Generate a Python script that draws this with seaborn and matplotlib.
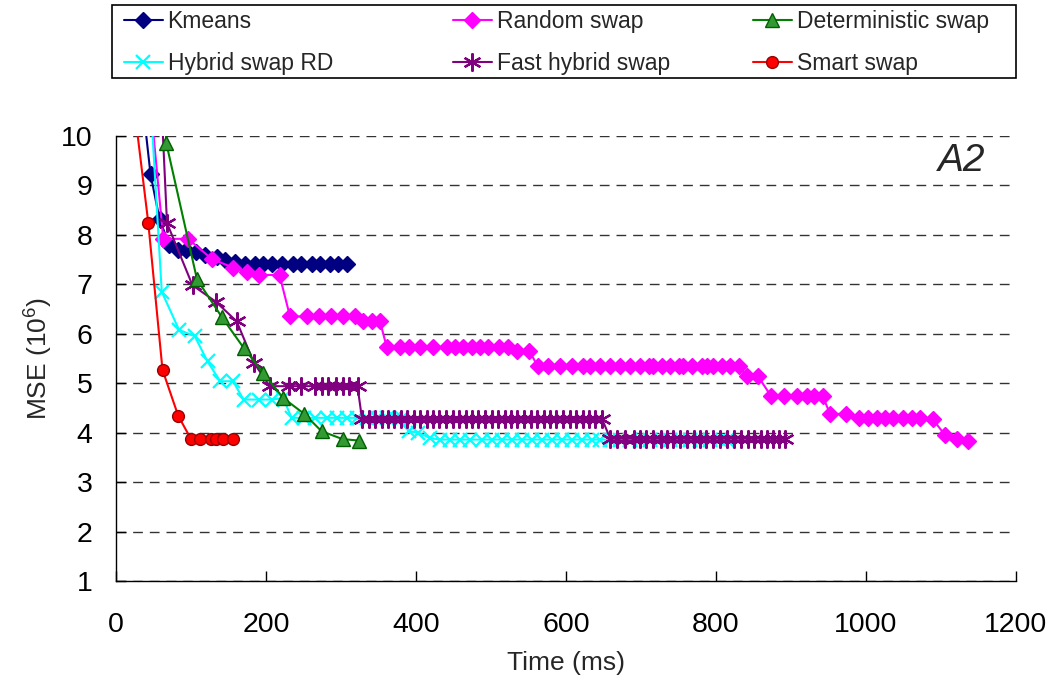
import matplotlib
matplotlib.use("Agg")
import matplotlib.pyplot as plt
from matplotlib.patches import Rectangle
import seaborn as sns
import pandas as pd

# ---------------- data ----------------
kmeans_t = [36, 46, 58, 71, 82, 93, 107, 118, 134, 145, 158, 172, 185, 196, 208, 221,
            236, 247, 261, 272, 285, 296, 308]
kmeans_mse = [10.6, 9.23, 8.32, 7.80, 7.70, 7.70, 7.65, 7.60, 7.56, 7.49, 7.46, 7.41,
              7.41, 7.41, 7.41, 7.41, 7.41, 7.41, 7.41, 7.41, 7.41, 7.41, 7.41]

random_t = [44, 63, 96, 128, 156, 174, 191, 218, 232, 255, 271, 286, 303, 319, 329, 341,
            352, 361, 379, 391, 405, 423, 441, 452, 463, 474, 485, 496, 510, 523, 534, 551,
            562, 576, 592, 608, 623, 632, 645, 659, 672, 685, 699, 710, 716, 728, 739, 750,
            756, 768, 781, 788, 796, 808, 819, 830, 841, 856, 873, 890, 908, 921, 931, 942,
            952, 973, 991, 1003, 1015, 1025, 1036, 1049, 1061, 1072, 1089, 1105, 1121, 1136]
random_mse = [11.0, 7.92, 7.92, 7.51, 7.34, 7.25, 7.19, 7.19, 6.35, 6.35, 6.35, 6.35, 6.35,
              6.35, 6.25, 6.25, 6.25, 5.73, 5.73, 5.73, 5.73, 5.73, 5.73, 5.73, 5.73, 5.73,
              5.73, 5.73, 5.73, 5.73, 5.66, 5.66, 5.35, 5.35, 5.35, 5.35, 5.35, 5.35, 5.35,
              5.35, 5.35, 5.35, 5.35, 5.35, 5.35, 5.35, 5.35, 5.35, 5.35, 5.35, 5.35, 5.35,
              5.35, 5.35, 5.35, 5.35, 5.14, 5.14, 4.75, 4.75, 4.75, 4.75, 4.75, 4.75, 4.38,
              4.38, 4.29, 4.29, 4.29, 4.29, 4.29, 4.29, 4.29, 4.29, 4.27, 3.96, 3.87, 3.84]

det_t = [64, 67, 108, 141, 170, 196, 223, 251, 274, 302, 324]
det_mse = [11.5, 9.86, 7.10, 6.34, 5.72, 5.21, 4.70, 4.38, 4.03, 3.87, 3.84]

hybrid_t = [43, 61, 84, 105, 122, 139, 156, 170, 190, 208, 223, 234, 250, 265, 281, 294,
            308, 321, 334, 348, 361, 372, 381, 390, 403, 419, 432, 445, 459, 472, 488, 501,
            514, 528, 541, 554, 568, 581, 594, 608, 621, 634, 645, 659, 672, 685, 699, 712,
            725, 739, 752, 765, 779, 792, 805, 815]
hybrid_mse = [11.5, 6.85, 6.08, 5.95, 5.44, 5.04, 5.04, 4.67, 4.67, 4.67, 4.70, 4.30, 4.30,
              4.30, 4.30, 4.30, 4.30, 4.30, 4.30, 4.30, 4.30, 4.30, 4.30, 4.03, 4.00, 3.89,
              3.86, 3.86, 3.86, 3.86, 3.86, 3.86, 3.86, 3.86, 3.86, 3.86, 3.86, 3.86, 3.86,
              3.86, 3.86, 3.86, 3.86, 3.86, 3.86, 3.86, 3.86, 3.86, 3.86, 3.86, 3.86, 3.86,
              3.86, 3.86, 3.86, 3.86]

fast_t = [58, 68, 102, 133, 161, 184, 205, 230, 247, 265, 274, 283, 293, 302, 311, 322,
          328, 337, 345, 354, 362, 371, 380, 388, 397, 405, 414, 423, 431, 440, 449, 457,
          466, 475, 483, 492, 501, 509, 518, 527, 535, 544, 553, 561, 570, 579, 587, 596,
          605, 613, 622, 631, 639, 648, 659, 668, 678, 690, 699, 707, 716, 726, 735, 743,
          752, 761, 770, 778, 787, 796, 805, 815, 824, 833, 842, 851, 860, 868, 876, 884, 892]
fast_mse = [11.5, 8.24, 6.98, 6.65, 6.25, 5.41, 4.94, 4.94, 4.94, 4.94, 4.94, 4.94, 4.94,
            4.94, 4.94, 4.94, 4.28, 4.28, 4.28, 4.28, 4.28, 4.28, 4.28, 4.28, 4.28, 4.28,
            4.28, 4.28, 4.28, 4.28, 4.28, 4.28, 4.28, 4.28, 4.28, 4.28, 4.28, 4.28, 4.28,
            4.28, 4.28, 4.28, 4.28, 4.28, 4.28, 4.28, 4.28, 4.28, 4.28, 4.28, 4.28, 4.28,
            4.28, 4.28, 3.88, 3.88, 3.88, 3.88, 3.88, 3.88, 3.88, 3.88, 3.88, 3.88, 3.88,
            3.88, 3.88, 3.88, 3.88, 3.88, 3.88, 3.88, 3.88, 3.88, 3.88, 3.88, 3.88, 3.88,
            3.88, 3.88, 3.88]

smart_t = [17, 43, 62, 83, 100, 112, 126, 133, 143, 156]
smart_mse = [11.5, 8.25, 5.27, 4.34, 3.87, 3.87, 3.87, 3.87, 3.87, 3.87]

series_names = ["Kmeans", "Random swap", "Deterministic swap",
                "Hybrid swap RD", "Fast hybrid swap", "Smart swap"]
x_ticks = [0, 200, 400, 600, 800, 1000, 1200]
y_ticks = [1, 2, 3, 4, 5, 6, 7, 8, 9, 10]

# ---------------- styling ----------------
sns.set_style("white")
plt.rcParams["font.family"] = ["Liberation Sans", "DejaVu Sans"]

W, H = 1056, 689
fig = plt.figure(figsize=(W / 100, H / 100), dpi=100)
ax = fig.add_axes([116 / W, 1 - 581 / H, 900 / W, 445 / H])

styles = {
    "Kmeans": dict(color="#000080", marker="D", markersize=8, mec="#000080", mfc="#000080"),
    "Random swap": dict(color="#ff00ff", marker="D", markersize=8, mec="#ff00ff", mfc="#ff00ff"),
    "Deterministic swap": dict(color="#008000", marker="^", markersize=10.5, mec="#006000", mfc="#339933"),
    "Hybrid swap RD": dict(color="#00ffff", marker="x", markersize=10, mec="#00ffff", mew=1.6),
    "Fast hybrid swap": dict(color="#800080", marker=(6, 2, 0), markersize=13, mec="#800080", mew=1.6),
    "Smart swap": dict(color="#ff0000", marker="o", markersize=8.5, mec="#990000", mfc="#ff0000"),
}
data = {
    "Kmeans": (kmeans_t, kmeans_mse),
    "Random swap": (random_t, random_mse),
    "Deterministic swap": (det_t, det_mse),
    "Hybrid swap RD": (hybrid_t, hybrid_mse),
    "Fast hybrid swap": (fast_t, fast_mse),
    "Smart swap": (smart_t, smart_mse),
}

draw_order = ["Kmeans", "Random swap", "Hybrid swap RD", "Fast hybrid swap",
              "Deterministic swap", "Smart swap"]
handles = {}
for name in draw_order:
    t, m = data[name]
    df = pd.DataFrame({"t": t, "mse": m})
    st = styles[name]
    sns.lineplot(data=df, x="t", y="mse", ax=ax, estimator=None, sort=False,
                 color=st["color"], marker=st["marker"], markersize=st["markersize"],
                 markeredgecolor=st["mec"], markerfacecolor=st.get("mfc", st["color"]),
                 markeredgewidth=st.get("mew", 1.0), linewidth=1.5, label=name)
    handles[name] = ax.get_lines()[-1]

ax.set_xlim(0, 1200)
ax.set_ylim(1, 10)
ax.set_xticks(x_ticks)
ax.set_yticks(y_ticks)
ax.tick_params(axis="both", direction="in", length=7, width=1, labelsize=20.5,
               bottom=True, left=True, colors="black")
ax.tick_params(axis="x", pad=22)
ax.tick_params(axis="y", pad=17)
for s in ["top", "right"]:
    ax.spines[s].set_visible(False)
for s in ["left", "bottom"]:
    ax.spines[s].set_color("black")
    ax.spines[s].set_linewidth(1.0)

ax.yaxis.grid(True, linestyle=(0, (7, 5)), color="#333333", linewidth=1.0)
ax.xaxis.grid(False)
ax.set_axisbelow(True)

ax.set_xlabel("Time (ms)", fontsize=19, labelpad=10)
ax.set_ylabel(r"MSE (10$\mathregular{^{6}}$)", fontsize=19, labelpad=4)

ax.text(0.966, 0.985, "A2", transform=ax.transAxes, fontsize=28, style="italic",
        ha="right", va="top")

if ax.get_legend() is not None:
    ax.get_legend().remove()

# legend: frame plus three columns
fig.patches.append(Rectangle((112 / W, 1 - 78 / H), 904 / W, 73 / H,
                             transform=fig.transFigure, fill=False,
                             edgecolor="black", linewidth=1.2))
columns = [(["Kmeans", "Hybrid swap RD"], 124),
           (["Random swap", "Fast hybrid swap"], 453),
           (["Deterministic swap", "Smart swap"], 753)]
for names, xpix in columns:
    fig.legend([handles[n] for n in names], names, ncol=1, loc="upper left",
               bbox_to_anchor=(xpix / W, 1 - 10 / H), fontsize=16.5, frameon=False,
               handlelength=1.7, handletextpad=0.2, borderaxespad=0,
               borderpad=0, labelspacing=0.85)

fig.savefig("out.png", dpi=100)
